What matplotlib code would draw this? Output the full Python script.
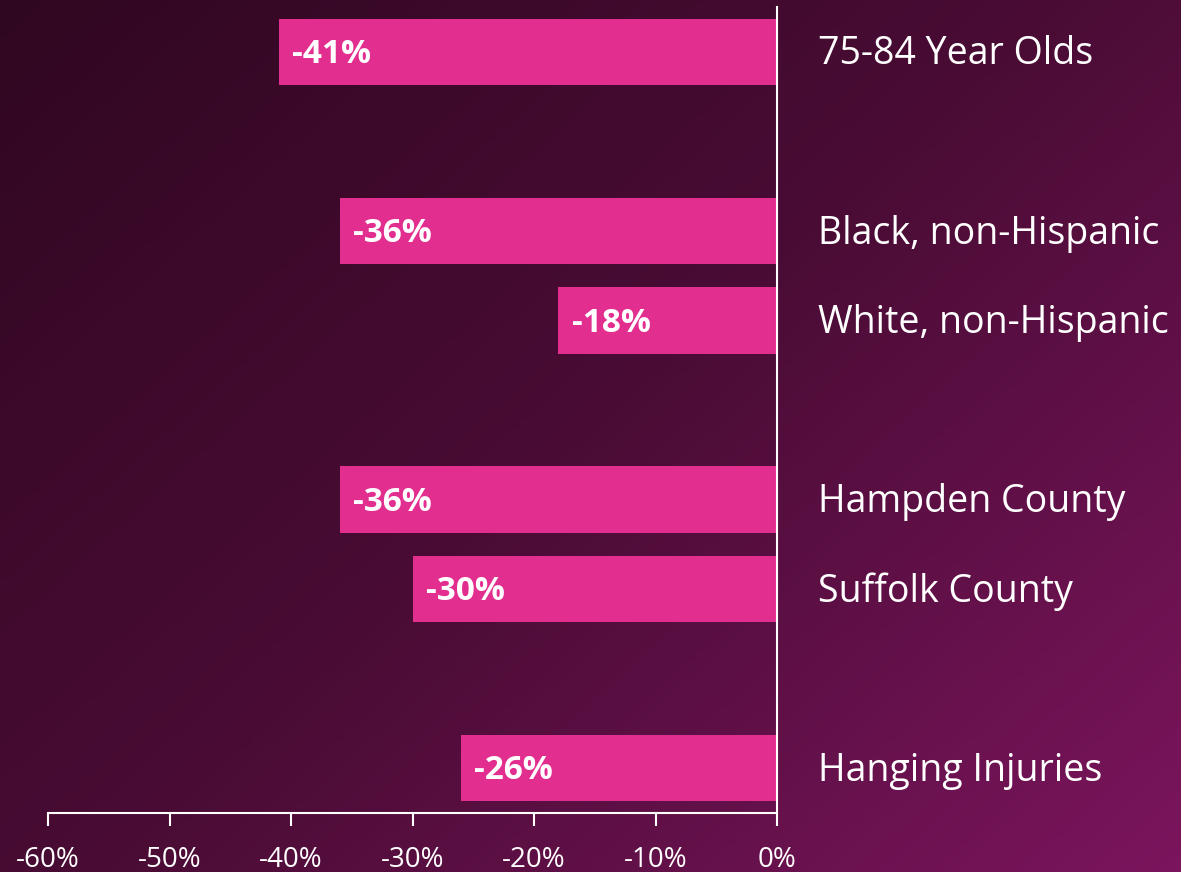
import numpy as np
import matplotlib.pyplot as plt
from matplotlib.colors import LinearSegmentedColormap

plt.rcParams['font.family'] = ['Open Sans', 'DejaVu Sans']

# data
categories = ['75-84 Year Olds', '', 'Black, non-Hispanic', 'White, non-Hispanic', '',
              'Hampden County', 'Suffolk County', '', 'Hanging Injuries']
values = [-41, None, -36, -18, None, -36, -30, None, -26]
ticks = [-60, -50, -40, -30, -20, -10, 0]

bar_color = '#e22e8f'

fig = plt.figure(figsize=(11.81, 8.72), dpi=100)

# background gradient
bg = fig.add_axes([0, 0, 1, 1], zorder=-1)
xx, yy = np.meshgrid(np.linspace(0, 1, 300), np.linspace(0, 1, 300))
grad = (xx * 0.55 + yy * 0.45)
cmap = LinearSegmentedColormap.from_list('bg', ['#300721', '#4a0c35', '#7b155d'])
bg.imshow(grad, cmap=cmap, aspect='auto', extent=[0, 1, 1, 0], origin='upper')
bg.axis('off')

ax = fig.add_axes([48 / 1181, 1 - 813 / 872, (777 - 48) / 1181, (813 - 7) / 872])
ax.patch.set_alpha(0)

for i, (cat, v) in enumerate(zip(categories, values)):
    if v is None:
        continue
    ax.barh(i, v, height=0.74, color=bar_color)
    ax.text(v + 1.1, i + 0.03, f'{v}%', color='white', fontsize=24, fontweight='bold',
            va='center', ha='left')
    ax.text(3.4, i + 0.03, cat, color='white', fontsize=27, va='center', ha='left',
            clip_on=False)

ax.set_xlim(-60, 0)
ax.set_ylim(8.5, -0.5)
ax.set_xticks(ticks)
ax.set_xticklabels([f'{t}%' for t in ticks], color='white', fontsize=20)
ax.set_yticks([])
ax.tick_params(axis='x', colors='white', length=9, width=1.5, pad=15)
for s in ['top', 'left']:
    ax.spines[s].set_visible(False)
ax.spines['bottom'].set_color('white')
ax.spines['bottom'].set_linewidth(1.5)
ax.spines['right'].set_color('white')
ax.spines['right'].set_linewidth(1.5)

plt.savefig('out.png', dpi=100)
